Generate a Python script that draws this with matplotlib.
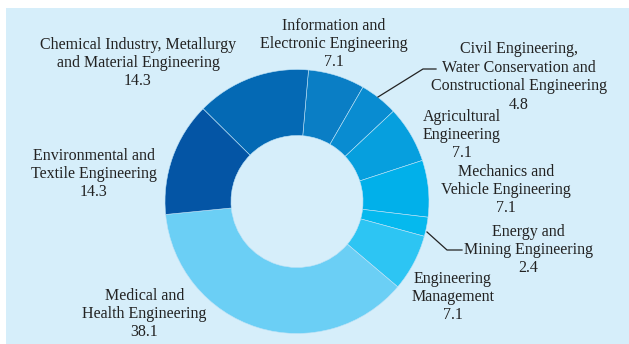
import matplotlib
matplotlib.use("Agg")
import matplotlib.pyplot as plt
from matplotlib.patches import Rectangle

categories = [
    "Information and\nElectronic Engineering",
    "Civil Engineering,\nWater Conservation and\nConstructional Engineering",
    "Agricultural\nEngineering",
    "Mechanics and\nVehicle Engineering",
    "Energy and\nMining Engineering",
    "Engineering\nManagement",
    "Medical and\nHealth Engineering",
    "Environmental and\nTextile Engineering",
    "Chemical Industry, Metallurgy\nand Material Engineering",
]
values = [7.1, 4.8, 7.1, 7.1, 2.4, 7.1, 38.1, 14.3, 14.3]
value_labels = ["7.1", "4.8", "7.1", "7.1", "2.4", "7.1", "38.1", "14.3", "14.3"]
colors = ["#0A7EC5", "#098CD1", "#069FDE", "#01B0EA", "#05B9EE",
          "#2DC5F3", "#6BCFF5", "#0455A5", "#0469B4"]

W, H = 629, 344
bg = "#D6EEFA"
fig = plt.figure(figsize=(W / 100, H / 100), dpi=100, facecolor="white")
ax = fig.add_axes([0, 0, 1, 1])
ax.set_facecolor("none")

def py(y):
    return H - y

ax.add_patch(Rectangle((6, 0), W - 6, H - 8, facecolor=bg,
                       edgecolor="none", zorder=-10))

cx, cy, R = 297, py(201.5), 132
ax.pie(values, colors=colors, startangle=85, counterclock=False,
       center=(cx, cy), radius=R,
       wedgeprops=dict(width=R * 0.5, edgecolor="#BFE3F7", linewidth=0.4))
ax.set_xlim(0, W)
ax.set_ylim(0, H)
ax.set_aspect("equal")
ax.axis("off")

# label positions (pixel coords of text block centre)
label_pos = [
    (334, 44), (519, 77), (461.5, 135), (506, 190), (528, 250),
    (453, 297), (144.5, 314), (94, 174), (138, 63),
]
font = dict(family="Liberation Serif", fontsize=11.5, color="#222222")
for cat, val, (x, y) in zip(categories, value_labels, label_pos):
    ax.text(x, py(y), cat + "\n" + val, ha="center", va="center",
            linespacing=1.2, **font)

# leader lines
ax.plot([378, 423, 436], [py(97), py(69), py(69)], color="#222222", lw=0.9)
ax.plot([427, 447, 462], [py(232), py(250), py(250)], color="#222222", lw=0.9)

fig.savefig("out.png", dpi=100, facecolor="white")
